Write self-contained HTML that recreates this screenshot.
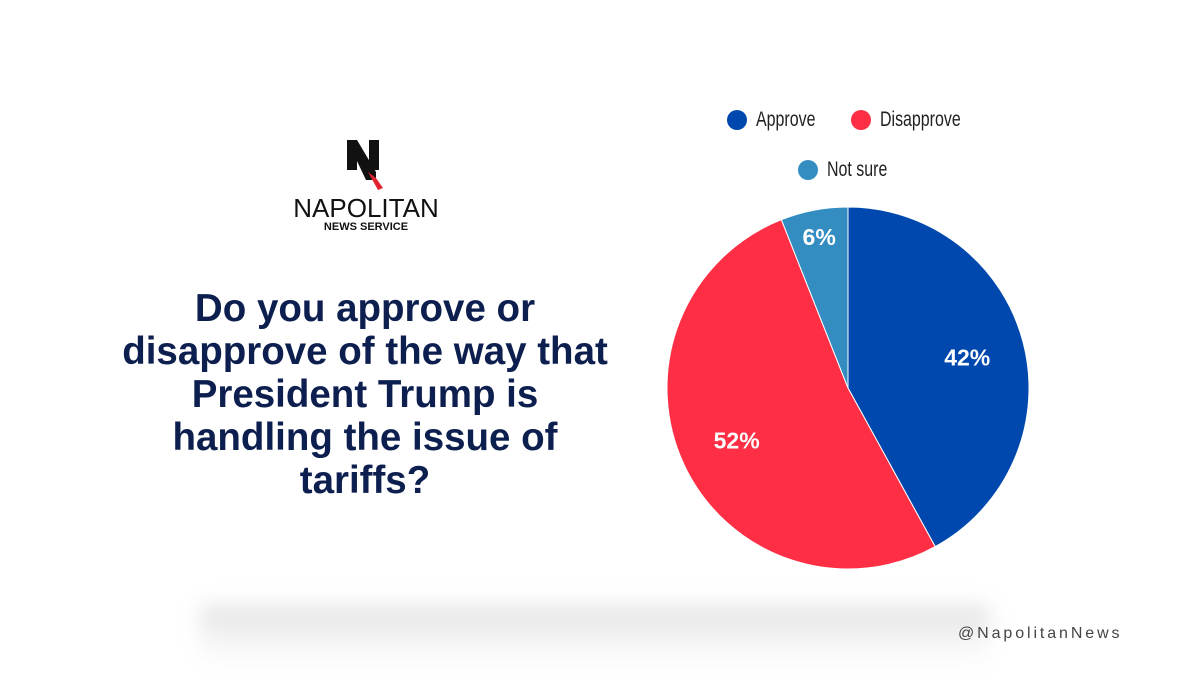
<!DOCTYPE html>
<html><head><meta charset="utf-8"><style>
body{margin:0;width:1200px;height:675px;background:#fff;position:relative;overflow:hidden;font-family:"Liberation Sans",sans-serif}
.shadow{position:absolute;left:200px;top:606px;width:790px;height:62px;background:linear-gradient(#e0e0e0,#f4f4f4 50%,#fff);filter:blur(10px)}
.q{position:absolute;left:65px;top:287px;width:600px;text-align:center;color:#0d1f4f;font-weight:bold;font-size:38.5px;line-height:43px}
.handle{position:absolute;left:958px;top:625px;font-size:16px;letter-spacing:2.9px;color:#444}
.leg{position:absolute;font-family:"Liberation Sans",sans-serif;font-size:21px;color:#222;display:flex;align-items:center}
.leg span{display:inline-block;transform:scaleX(0.76);transform-origin:left center}
.leg i{display:inline-block;width:20px;height:20px;border-radius:50%;margin-right:9px}
</style></head><body>
<div class="shadow"></div>
<svg style="position:absolute;left:280px;top:130px" width="180" height="110">
<polygon points="67,10 77,10 77,40 67,40" fill="#111"/>
<polygon points="67,10 77,10 96,42 96,50 86,50 " fill="#111"/>
<polygon points="89,10 99,10 99,40 89,40" fill="#111"/>
<polygon points="88,42 96,48 103,58 98,60" fill="#e0232e"/>
<text x="86" y="87" text-anchor="middle" font-size="26" fill="#111" font-family="Liberation Sans">NAPOLITAN</text>
<text x="86" y="100" text-anchor="middle" font-size="11" font-weight="bold" fill="#111" font-family="Liberation Sans">NEWS SERVICE</text>
</svg>
<div class="q">Do you approve or<br>disapprove of the way that<br>President Trump is<br>handling the issue of<br>tariffs?</div>
<div class="leg" style="left:727px;top:108px"><i style="background:#0048ad"></i><span>Approve</span></div>
<div class="leg" style="left:851px;top:108px"><i style="background:#fe2f45"></i><span>Disapprove</span></div>
<div class="leg" style="left:798px;top:158px"><i style="background:#338dc1"></i><span>Not sure</span></div>
<svg id="pie" style="position:absolute;left:0;top:0" width="1200" height="675"></svg>
<div class="handle">@NapolitanNews</div>
<script>
const labels=["Approve","Disapprove","Not sure"];
const values=[42,52,6];
const colors=["#0048ad","#fe2f45","#338dc1"];
const cx=848,cy=388,r=181;
const svg=document.getElementById('pie');
const NS="http://www.w3.org/2000/svg";
const tot=values.reduce((a,b)=>a+b,0);
let a0=0;
values.forEach((v,i)=>{
 const a1=a0+v/tot*2*Math.PI;
 const p=(a)=>[cx+r*Math.sin(a),cy-r*Math.cos(a)];
 const [x0,y0]=p(a0),[x1,y1]=p(a1);
 const path=document.createElementNS(NS,'path');
 path.setAttribute('d',`M${cx},${cy}L${x0},${y0}A${r},${r} 0 ${a1-a0>Math.PI?1:0} 1 ${x1},${y1}Z`);
 path.setAttribute('fill',colors[i]);path.setAttribute('stroke','#fff');path.setAttribute('stroke-width','1');
 
 
 svg.appendChild(path);
 const am=(a0+a1)/2, lr=v<10?r*0.85:r*0.68;
 const t=document.createElementNS(NS,'text');
 t.setAttribute('x',cx+lr*Math.sin(am));t.setAttribute('y',cy-lr*Math.cos(am)+8);
 t.setAttribute('text-anchor','middle');t.setAttribute('fill','#fff');t.setAttribute('font-size','23');t.setAttribute('font-weight','bold');
 t.setAttribute('font-family','Liberation Sans');
 
 
 t.textContent=v+'%';svg.appendChild(t);
 a0=a1;
});
</script>
</body></html>
